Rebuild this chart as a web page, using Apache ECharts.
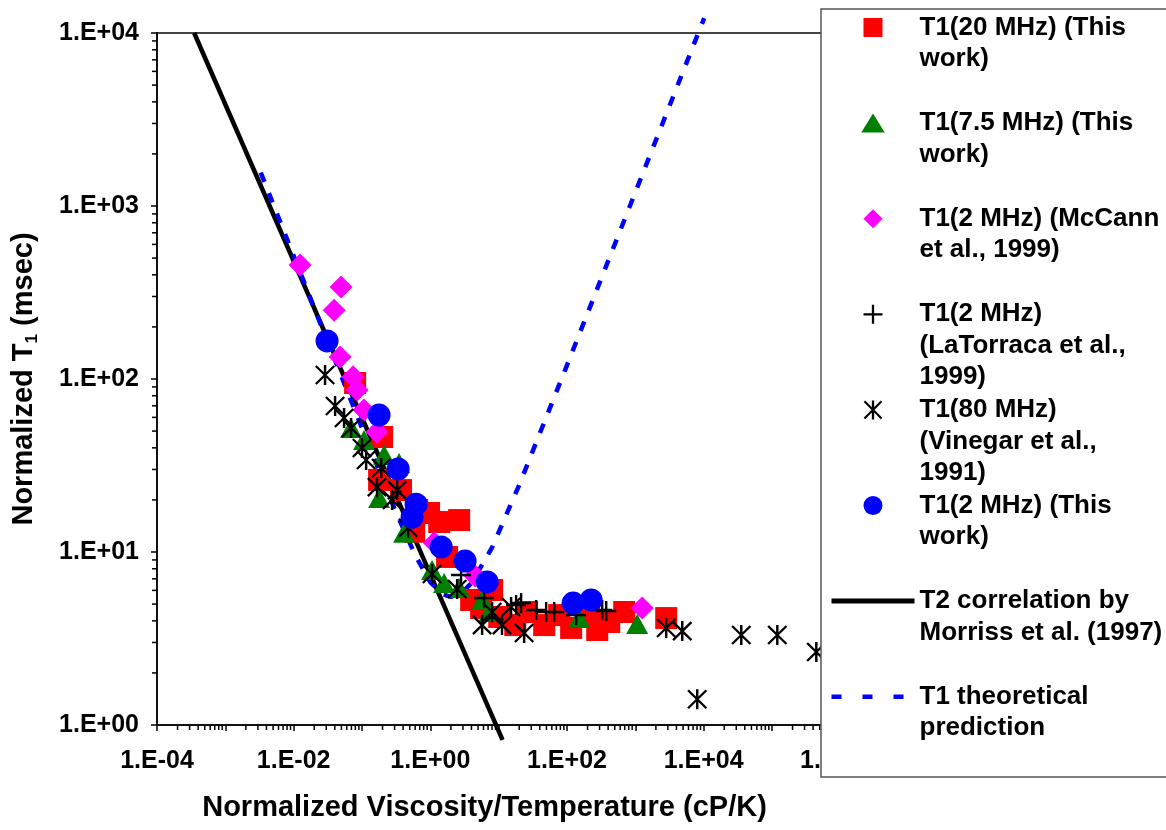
<!DOCTYPE html>
<html>
<head>
<meta charset="utf-8">
<script src="https://cdn.jsdelivr.net/npm/echarts@6/dist/echarts.min.js"></script>
<style>html,body{margin:0;padding:0;background:#fff}#c{width:1166px;height:830px}</style>
</head>
<body>
<div id="c"></div>
<script>
// ---------------- data ----------------
const t1_20MHz_thisWork = [[0.0793,94.8],[0.197,46.2],[0.178,26.1],[0.373,22.8],[0.641,17.5],[0.959,16.8],[2.64,15.3],[0.58,13.1],[1.35,14.9],[1.76,9.36],[3.96,5.28],[5.54,4.75],[8.03,6.03],[10.2,4.21],[17.5,3.78],[26.1,4.5],[46.4,3.78],[76.9,4.32],[115,3.64],[211,4.32],[277,3.54],[415,3.94],[687,4.5],[2833,4.15]];
const t1_7_5MHz_thisWork = [[0.0692,52.1],[0.107,44.4],[0.211,36.4],[0.349,32.7],[0.178,20.5],[0.413,12.9],[1.06,7.87],[1.59,6.62],[2.64,6.19],[5.73,5.28],[7.26,4.5],[151,4.15],[1066,3.84]];
const t1_2MHz_mccann = [[0.0124,456],[0.0494,340],[0.0391,250],[0.0478,134],[0.0741,103],[0.0847,86.4],[0.107,66.2],[0.166,49.4],[1.14,11.3],[4.53,7.27],[1262,4.75]];
const t1_2MHz_latorraca = [[2.82,7.36],[6.13,5.42],[18.0,4.94],[21.3,5.07],[35.4,4.62],[49.6,4.5],[65.0,4.5],[136,4.32],[328,4.62],[375,4.56]];
const t1_80MHz_vinegar = [[0.0288,105.5],[0.0404,69.8],[0.0547,59.5],[0.0692,52.1],[0.100,39.9],[0.115,34.0],[0.191,30.6],[0.166,23.7],[0.276,20.0],[0.327,22.8],[0.473,13.8],[1.06,7.46],[2.47,6.11],[5.73,3.78],[8.03,4.5],[11.2,3.78],[15.2,4.81],[23.6,3.40],[2833,3.64],[4864,3.49],[35560,3.31],[119700,3.31],[445600,2.64],[8055,1.41]];
const t1_2MHz_thisWork = [[0.0308,166],[0.178,61.9],[0.338,30.2],[0.619,18.9],[0.541,15.9],[1.44,10.7],[3.23,8.87],[6.79,6.71],[123,5.07],[226,5.28]];
const t2_morriss = [[3.5e-4,1e4],[11.4,0.82]];
const t1_theory = [[0.0033,1560],[0.01,515],[0.03,172],[0.1,52],[0.3,17.7],[0.6,9.6],[1,6.7],[1.5,5.7],[2,5.5],[3,5.9],[4,6.6],[8,10.6],[20,24.4],[100,120],[1000,1200],[10200,12200]];

const seriesNames = [
  'T1(20 MHz) (This\nwork)',
  'T1(7.5 MHz) (This\nwork)',
  'T1(2 MHz) (McCann\net al., 1999)',
  'T1(2 MHz)\n(LaTorraca et al.,\n1999)',
  'T1(80 MHz)\n(Vinegar et al.,\n1991)',
  'T1(2 MHz) (This\nwork)',
  'T2 correlation by\nMorriss et al. (1997)',
  'T1 theoretical\nprediction'
];
const xAxisTitle = 'Normalized Viscosity/Temperature (cP/K)';
const xDecades = [-4,-3,-2,-1,0,1,2,3,4,5];
const yDecades = [0,1,2,3];
const minorMultipliers = [2,3,4,5,6,7,8,9];

// ---------------- styling ----------------
const FONT = "'Liberation Sans', Arial, Helvetica, sans-serif";
const PLUS = 'path://M-1.2,-10 L1.2,-10 L1.2,10 L-1.2,10 Z M-10,-1.2 L10,-1.2 L10,1.2 L-10,1.2 Z';
const STAR = 'path://M-1.2,-10 L1.2,-10 L1.2,10 L-1.2,10 Z M-8.2,-9.8 L9.8,8.2 L8.2,9.8 L-9.8,-8.2 Z M-9.8,8.2 L8.2,-9.8 L9.8,-8.2 L-8.2,9.8 Z';
const ICON_SQUARE = 'path://M-10,-10 L10,-10 L10,10 L-10,10 Z';
const ICON_TRI = 'path://M0,-9 L10.5,8 L-10.5,8 Z';
const ICON_DIAMOND = 'path://M0,-10 L10,0 L0,10 L-10,0 Z';
const ICON_CIRCLE = 'path://M0,-10 A10,10 0 1,1 0,10 A10,10 0 1,1 0,-10 Z';

function expLabel(v) {
  const e = Math.round(Math.log10(v));
  return '1.E' + (e < 0 ? '-' : '+') + String(Math.abs(e)).padStart(2, '0');
}

const xMinor = [];
xDecades.forEach(d => minorMultipliers.forEach(m => xMinor.push([m * Math.pow(10, d), 1])));
const yMinor = [];
yDecades.forEach(d => minorMultipliers.forEach(m => yMinor.push([1e-4, m * Math.pow(10, d)])));

const L = 31.5;
const pad2 = [31.5, 0, 31.5, 0];
const pad3 = [0, 0, 0, 0];

const chart = echarts.init(document.getElementById('c'), null, {renderer: 'canvas'});
chart.setOption({
  animation: false,
  backgroundColor: '#fff',
  grid: {left: 157, right: 326, top: 33, bottom: 105, show: true, borderColor: '#444', borderWidth: 2, backgroundColor: 'transparent'},
  xAxis: {
    type: 'log', logBase: 10, min: 1e-4, max: 9.9e5, splitNumber: 10,
    axisLine: {show: true, onZero: false, lineStyle: {color: '#111', width: 2}},
    axisTick: {show: true, length: 6, lineStyle: {color: '#000', width: 1.5}},
    splitLine: {show: false},
    axisLabel: {
      margin: 24, fontFamily: FONT, fontWeight: 'bold', fontSize: 25, color: '#000',
      showMinLabel: true, showMaxLabel: true, hideOverlap: false,
      formatter: v => (Math.round(Math.log10(v)) % 2 === 0 ? expLabel(v) : '')
    },
    name: xAxisTitle, nameLocation: 'middle', nameGap: 68,
    nameTextStyle: {fontFamily: FONT, fontWeight: 'bold', fontSize: 29, color: '#000', padding: [0, 28, 0, 0]}
  },
  yAxis: {
    type: 'log', logBase: 10, min: 1, max: 1e4, splitNumber: 4,
    axisLine: {show: true, onZero: false, lineStyle: {color: '#111', width: 2}},
    axisTick: {show: true, length: 6, lineStyle: {color: '#000', width: 1.5}},
    splitLine: {show: false},
    axisLabel: {margin: 18, fontFamily: FONT, fontWeight: 'bold', fontSize: 25, color: '#000', formatter: expLabel},
    name: '{a|Normalized T}{s|1}{a| (msec)}', nameLocation: 'middle', nameGap: 116, nameRotate: 90,
    nameTextStyle: {
      fontFamily: FONT, fontWeight: 'bold', fontSize: 29, color: '#000',
      rich: {
        a: {fontFamily: FONT, fontWeight: 'bold', fontSize: 29, color: '#000', lineHeight: 34},
        s: {fontFamily: FONT, fontWeight: 'bold', fontSize: 17, color: '#000', lineHeight: 14, verticalAlign: 'bottom'}
      }
    }
  },
  legend: {
    orient: 'vertical', left: 829, top: -51.25, height: 900, padding: 0,
    itemWidth: 83, itemHeight: 19, itemGap: -61.9, symbolKeepAspect: true, selectedMode: false,
    textStyle: {fontFamily: FONT, fontWeight: 'bold', fontSize: 26, color: '#000', lineHeight: L},
    formatter: name => '\n'.repeat(name.split('\n').length - 1) + name,
    data: [
      {name: seriesNames[0], icon: ICON_SQUARE, itemStyle: {color: '#FF0000', opacity: 1}, textStyle: {padding: pad2}},
      {name: seriesNames[1], icon: ICON_TRI, itemStyle: {color: '#008000', opacity: 1}, textStyle: {padding: pad2}},
      {name: seriesNames[2], icon: ICON_DIAMOND, itemStyle: {color: '#FF00FF', opacity: 1}, textStyle: {padding: pad2}},
      {name: seriesNames[3], icon: PLUS, itemStyle: {color: '#000', opacity: 1}, textStyle: {padding: pad3}},
      {name: seriesNames[4], icon: STAR, itemStyle: {color: '#000', opacity: 1}, textStyle: {padding: pad3}},
      {name: seriesNames[5], icon: ICON_CIRCLE, itemStyle: {color: '#0000FF', opacity: 1}, textStyle: {padding: pad2}},
      {name: seriesNames[6], itemStyle: {opacity: 0}, lineStyle: {color: '#000', width: 5, type: 'solid'}, textStyle: {padding: pad2}},
      {name: seriesNames[7], itemStyle: {opacity: 0}, lineStyle: {color: '#0000FF', width: 4.5, type: [10, 21]}, textStyle: {padding: pad2}}
    ]
  },
  graphic: [{
    type: 'rect', z: 3,
    shape: {x: 821, y: 9, width: 420, height: 768},
    style: {fill: '#fff', stroke: '#555', lineWidth: 1.5}
  }],
  series: [
    {type: 'scatter', name: seriesNames[0], data: t1_20MHz_thisWork, symbol: 'rect', symbolSize: 22, itemStyle: {color: '#FF0000', opacity: 1}},
    {type: 'scatter', name: seriesNames[1], data: t1_7_5MHz_thisWork, symbol: 'triangle', symbolSize: [22, 20], itemStyle: {color: '#008000', opacity: 1}},
    {type: 'scatter', name: seriesNames[2], data: t1_2MHz_mccann, symbol: 'diamond', symbolSize: 23, itemStyle: {color: '#FF00FF', opacity: 1}},
    {type: 'scatter', name: seriesNames[3], data: t1_2MHz_latorraca, symbol: PLUS, symbolSize: 20, itemStyle: {color: '#000', opacity: 1}},
    {type: 'scatter', name: seriesNames[4], data: t1_80MHz_vinegar, symbol: STAR, symbolSize: 20, itemStyle: {color: '#000', opacity: 1}},
    {type: 'scatter', name: seriesNames[5], data: t1_2MHz_thisWork, symbol: 'circle', symbolSize: 23, itemStyle: {color: '#0000FF', opacity: 1}},
    {type: 'line', name: seriesNames[6], data: t2_morriss, symbol: 'none', showSymbol: false, clip: false, z: 1,
     lineStyle: {color: '#000', width: 4.5}, itemStyle: {color: '#000'}},
    {type: 'line', name: seriesNames[7], data: t1_theory, symbol: 'none', showSymbol: false, clip: false, z: 1,
     lineStyle: {color: '#0000FF', width: 4.5, type: [10, 12]}, itemStyle: {color: '#0000FF'}},
    {type: 'custom', name: 'xMinorTicks', data: xMinor, silent: true, z: 1, clip: false,
     renderItem: (params, api) => {
       const p = api.coord([api.value(0), api.value(1)]);
       return {type: 'line', shape: {x1: p[0], y1: p[1], x2: p[0], y2: p[1] + 5}, style: {stroke: '#000', lineWidth: 1.5}};
     }},
    {type: 'custom', name: 'yMinorTicks', data: yMinor, silent: true, z: 1, clip: false,
     renderItem: (params, api) => {
       const p = api.coord([api.value(0), api.value(1)]);
       return {type: 'line', shape: {x1: p[0] - 5, y1: p[1], x2: p[0], y2: p[1]}, style: {stroke: '#000', lineWidth: 1.5}};
     }}
  ]
});
</script>
</body>
</html>
